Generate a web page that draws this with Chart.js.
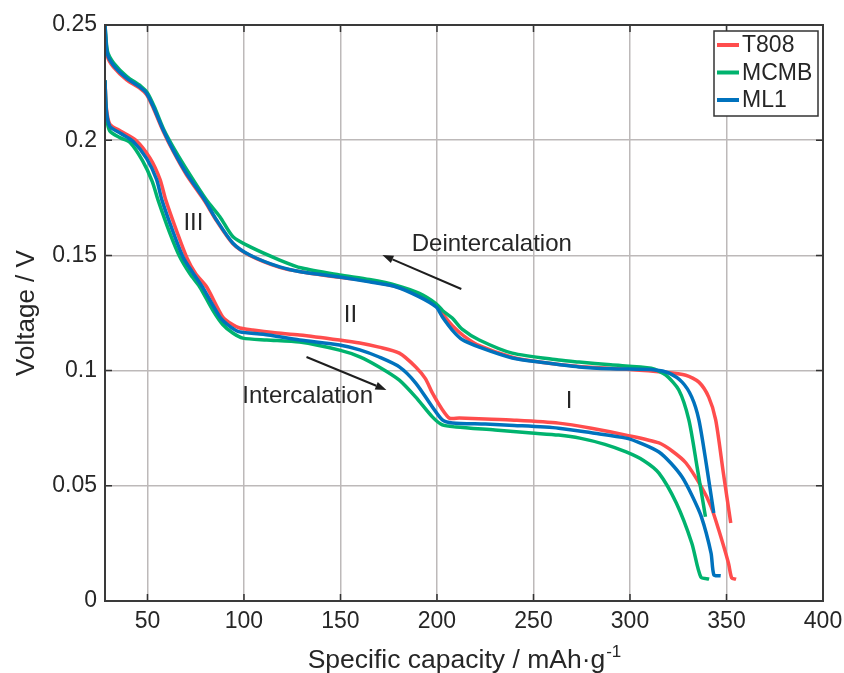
<!DOCTYPE html>
<html>
<head>
<meta charset="utf-8">
<script src="https://cdn.jsdelivr.net/npm/chart.js@4.4.0/dist/chart.umd.min.js"></script>
<style>
  html, body { margin: 0; padding: 0; background: #fff; }
</style>
</head>
<body>
<canvas id="chart" width="844" height="673"></canvas>
<script>
// axis ticks
const xTicks = [50, 100, 150, 200, 250, 300, 350, 400];
const yTicks = [0, 0.05, 0.1, 0.15, 0.2, 0.25];
const yTickLabels = ['0', '0.05', '0.1', '0.15', '0.2', '0.25'];

const seriesNames = ['T808', 'MCMB', 'ML1'];
const seriesColors = ['#ff4d4d', '#00b36e', '#0072bd'];

// intercalation (lower branch), capacity in mAh/g and voltage in V
const t808DisX = [28, 28.7, 30.5, 36, 44, 51.5, 56.5, 59.5, 65.5, 70.4, 75, 80.7, 89, 94, 97.8, 104.5, 115, 128.8, 149.5, 160, 170, 180.5, 189, 194, 197.6, 202.8, 206.4, 211.6, 225, 240, 263, 280, 298, 315, 322, 329, 337, 342, 346, 351, 352.7, 355];
const t808DisV = [0.226, 0.214, 0.207, 0.204, 0.2, 0.192, 0.183, 0.174, 0.1597, 0.149, 0.142, 0.1363, 0.1233, 0.1200, 0.1185, 0.1176, 0.1165, 0.1155, 0.1133, 0.1120, 0.1102, 0.1076, 0.1016, 0.0965, 0.0903, 0.083, 0.0794, 0.0794, 0.0790, 0.0785, 0.0772, 0.075, 0.072, 0.0686, 0.0650, 0.0599, 0.0495, 0.041, 0.0308, 0.0165, 0.0100, 0.0095];

const mcmbDisX = [28, 28.7, 30.5, 36, 41, 47.5, 52.5, 55.5, 61.6, 66.8, 72, 77.1, 83.8, 89, 94.2, 99.4, 111.8, 128.8, 149.5, 160, 170, 180.5, 189, 197.6, 202.8, 210, 230, 249, 263, 274, 287, 298, 307, 315, 324, 332, 336.7, 341];
const mcmbDisV = [0.226, 0.211, 0.204, 0.201, 0.199, 0.191, 0.182, 0.174, 0.1597, 0.1493, 0.142, 0.1363, 0.1263, 0.120, 0.1163, 0.1141, 0.1133, 0.1124, 0.1089, 0.106, 0.1016, 0.0959, 0.0885, 0.0799, 0.0764, 0.0755, 0.0742, 0.0729, 0.072, 0.0707, 0.068, 0.0647, 0.061, 0.0555, 0.0425, 0.0252, 0.0104, 0.0095];

const ml1DisX = [28, 28.7, 30.5, 36, 42.5, 49.6, 54.7, 57.5, 63.5, 68.6, 73.5, 78.7, 87.5, 93, 97.8, 110, 128.8, 149.5, 160, 170, 180.5, 189, 197.6, 202.8, 208, 225, 240, 263, 280, 298, 307, 315, 321, 327, 332, 337, 342, 343.5, 347];
const ml1DisV = [0.226, 0.213, 0.206, 0.203, 0.1995, 0.192, 0.183, 0.174, 0.1597, 0.149, 0.1425, 0.136, 0.1233, 0.119, 0.1168, 0.1158, 0.1133, 0.1111, 0.109, 0.1059, 0.1016, 0.0946, 0.0842, 0.0786, 0.0773, 0.0768, 0.0762, 0.075, 0.073, 0.0707, 0.068, 0.0647, 0.060, 0.0538, 0.046, 0.0365, 0.0208, 0.0113, 0.011];

// deintercalation (upper branch)
const t808ChgX = [352.2, 348.3, 344.4, 340.8, 335.7, 328.9, 316.5, 300, 273.6, 255, 239, 222, 214, 208, 203, 199.6, 191, 179, 165, 149.5, 130, 118.5, 103, 94.3, 85.8, 79.7, 70.2, 63.3, 58.1, 53, 49.5, 46.1, 39.2, 32.3, 29.2, 28];
const t808ChgV = [0.0339, 0.056, 0.0786, 0.0885, 0.095, 0.098, 0.0994, 0.1005, 0.1018, 0.1035, 0.1058, 0.1108, 0.1150, 0.1195, 0.1245, 0.1282, 0.1325, 0.1365, 0.1388, 0.1405, 0.1428, 0.1448, 0.150, 0.1550, 0.165, 0.1735, 0.1850, 0.1952, 0.2040, 0.2140, 0.2198, 0.2225, 0.2262, 0.2318, 0.2365, 0.248];

const mcmbChgX = [339.1, 334.8, 330.5, 325.3, 318.6, 311, 290, 273.6, 263, 239, 221.9, 213, 207.9, 203, 199.6, 190.9, 179, 165, 149.5, 130, 118.5, 103, 94.3, 87.5, 80.6, 72, 64, 58.5, 53.5, 50, 46.5, 39.5, 32.5, 29.3, 28];
const mcmbChgV = [0.0366, 0.058, 0.0786, 0.0916, 0.098, 0.101, 0.1025, 0.1037, 0.1046, 0.1076, 0.1133, 0.118, 0.1228, 0.126, 0.129, 0.1335, 0.137, 0.1395, 0.1415, 0.1445, 0.148, 0.1538, 0.1581, 0.1668, 0.174, 0.185, 0.196, 0.2045, 0.2146, 0.2205, 0.2235, 0.2275, 0.2335, 0.2385, 0.25];

const ml1ChgX = [343.4, 339.8, 335.7, 332, 327, 320, 313, 290, 273.6, 255, 239, 221.9, 213, 207.9, 203, 199.6, 190.9, 179, 165, 149.5, 130, 118.5, 103, 94.3, 85.8, 79.7, 70.2, 63.3, 58.1, 53, 49.5, 46.1, 39.2, 32.3, 29.2, 28];
const ml1ChgV = [0.0382, 0.058, 0.0786, 0.0885, 0.095, 0.099, 0.1003, 0.1008, 0.1016, 0.1035, 0.1055, 0.1102, 0.1135, 0.1176, 0.123, 0.1276, 0.132, 0.1363, 0.1385, 0.1406, 0.1428, 0.145, 0.1502, 0.1553, 0.1654, 0.174, 0.1856, 0.1957, 0.2045, 0.2146, 0.2204, 0.223, 0.2269, 0.2326, 0.2377, 0.25];

// text notes and arrows, in data coordinates
const noteText = ['III', 'II', 'I', 'Deintercalation', 'Intercalation'];
const noteX = [73.8, 155.2, 268.4, 228.4, 133];
const noteV = [0.1638, 0.1241, 0.0866, 0.155, 0.0888];
const arrowFromX = [212.6, 132.4];
const arrowFromV = [0.1354, 0.1059];
const arrowToX = [171.7, 173.8];
const arrowToV = [0.1502, 0.0916];

const fontFamily = '"Liberation Sans", Arial, Helvetica, sans-serif';
const textColor = '#262626';
const gridColor = '#bdb9b9';

function toPoints(xs, vs) {
    return xs.map((x, i) => ({ x: x, y: vs[i] }));
}

function makeSet(name, idx, xs, vs) {
    return {
        label: name,
        data: toPoints(xs, vs),
        borderColor: seriesColors[idx],
        backgroundColor: seriesColors[idx],
        borderWidth: 3.5,
        pointRadius: 0,
        tension: 0.25,
        fill: false,
        order: 3 - idx
    };
}

// box, inward ticks, notes, arrows, legend and axis titles
const decorations = {
    id: 'decorations',
    afterDatasetsDraw(chart) {
        const { ctx, chartArea: a } = chart;
        const sx = chart.scales.x, sy = chart.scales.y;
        ctx.save();

        // inward tick marks on all four sides
        ctx.strokeStyle = '#333';
        ctx.lineWidth = 1.5;
        ctx.beginPath();
        xTicks.forEach(v => {
            const px = sx.getPixelForValue(v);
            ctx.moveTo(px, a.bottom); ctx.lineTo(px, a.bottom - 7);
            ctx.moveTo(px, a.top); ctx.lineTo(px, a.top + 7);
        });
        yTicks.forEach(v => {
            const py = sy.getPixelForValue(v);
            ctx.moveTo(a.left, py); ctx.lineTo(a.left + 7, py);
            ctx.moveTo(a.right, py); ctx.lineTo(a.right - 7, py);
        });
        ctx.stroke();

        // axes box
        ctx.strokeStyle = '#3a3a3a';
        ctx.lineWidth = 2;
        ctx.strokeRect(a.left, a.top, a.right - a.left, a.bottom - a.top);

        // arrows
        ctx.strokeStyle = '#1e1e1e';
        ctx.fillStyle = '#1e1e1e';
        ctx.lineWidth = 2;
        arrowFromX.forEach((fx, i) => {
            const x0 = sx.getPixelForValue(fx), y0 = sy.getPixelForValue(arrowFromV[i]);
            const x1 = sx.getPixelForValue(arrowToX[i]), y1 = sy.getPixelForValue(arrowToV[i]);
            const ang = Math.atan2(y1 - y0, x1 - x0);
            const len = 11, half = 4;
            const bx = x1 - len * Math.cos(ang), by = y1 - len * Math.sin(ang);
            ctx.beginPath();
            ctx.moveTo(x0, y0);
            ctx.lineTo(bx, by);
            ctx.stroke();
            ctx.beginPath();
            ctx.moveTo(x1, y1);
            ctx.lineTo(bx + half * Math.sin(ang), by - half * Math.cos(ang));
            ctx.lineTo(bx - half * Math.sin(ang), by + half * Math.cos(ang));
            ctx.closePath();
            ctx.fill();
        });

        // notes
        ctx.fillStyle = textColor;
        ctx.font = '24px ' + fontFamily;
        ctx.textAlign = 'center';
        ctx.textBaseline = 'middle';
        noteText.forEach((t, i) => {
            ctx.fillText(t, sx.getPixelForValue(noteX[i]), sy.getPixelForValue(noteV[i]));
        });

        // legend
        const lx = 714, ly = 31, lw = 104, lh = 85;
        ctx.fillStyle = '#fff';
        ctx.fillRect(lx, ly, lw, lh);
        ctx.strokeStyle = '#333';
        ctx.lineWidth = 1.5;
        ctx.strokeRect(lx, ly, lw, lh);
        ctx.font = '23px ' + fontFamily;
        ctx.textAlign = 'left';
        seriesNames.forEach((name, i) => {
            const ry = ly + 14 + i * 27.5;
            ctx.strokeStyle = seriesColors[i];
            ctx.lineWidth = 4;
            ctx.beginPath();
            ctx.moveTo(lx + 3, ry); ctx.lineTo(lx + 25, ry);
            ctx.stroke();
            ctx.fillStyle = textColor;
            ctx.fillText(name, lx + 28, ry + 1);
        });

        // y title
        ctx.fillStyle = textColor;
        ctx.font = '26px ' + fontFamily;
        ctx.textBaseline = 'alphabetic';
        ctx.textAlign = 'center';
        ctx.save();
        ctx.translate(34, (a.top + a.bottom) / 2);
        ctx.rotate(-Math.PI / 2);
        ctx.fillText('Voltage / V', 0, 0);
        ctx.restore();

        // x title with superscript
        const main = 'Specific capacity / mAh\u00b7g';
        const sup = '-1';
        ctx.font = '26.5px ' + fontFamily;
        const w1 = ctx.measureText(main).width;
        ctx.font = '17px ' + fontFamily;
        const w2 = ctx.measureText(sup).width;
        const startX = (a.left + a.right) / 2 - (w1 + w2) / 2;
        ctx.textAlign = 'left';
        ctx.font = '26.5px ' + fontFamily;
        ctx.fillText(main, startX, 668);
        ctx.font = '17px ' + fontFamily;
        ctx.fillText(sup, startX + w1 + 1, 657);

        ctx.restore();
    }
};

const ctx = document.getElementById('chart').getContext('2d');
new Chart(ctx, {
    type: 'line',
    data: {
        datasets: [
            makeSet('T808', 0, t808DisX, t808DisV),
            makeSet('T808', 0, t808ChgX, t808ChgV),
            makeSet('MCMB', 1, mcmbDisX, mcmbDisV),
            makeSet('MCMB', 1, mcmbChgX, mcmbChgV),
            makeSet('ML1', 2, ml1DisX, ml1DisV),
            makeSet('ML1', 2, ml1ChgX, ml1ChgV)
        ]
    },
    options: {
        responsive: false,
        animation: false,
        devicePixelRatio: 1,
        layout: { padding: { left: 0, right: 21, top: 25, bottom: 0 } },
        plugins: {
            legend: { display: false },
            tooltip: { enabled: false }
        },
        scales: {
            x: {
                type: 'linear',
                min: 28,
                max: 400,
                afterBuildTicks: s => { s.ticks = xTicks.map(v => ({ value: v })); },
                afterFit: s => { s.height = 72; s.paddingLeft = 0; s.paddingRight = 0; },
                grid: { color: gridColor, lineWidth: 1.5, drawTicks: false },
                border: { display: false },
                ticks: {
                    font: { family: fontFamily, size: 23 },
                    color: textColor,
                    padding: 7,
                    maxRotation: 0,
                    autoSkip: false,
                    callback: v => String(v)
                }
            },
            y: {
                type: 'linear',
                min: 0,
                max: 0.25,
                afterBuildTicks: s => { s.ticks = yTicks.map(v => ({ value: v })); },
                afterFit: s => { s.width = 105; s.paddingTop = 0; s.paddingBottom = 0; },
                grid: { color: gridColor, lineWidth: 1.5, drawTicks: false },
                border: { display: false },
                ticks: {
                    font: { family: fontFamily, size: 23 },
                    color: textColor,
                    padding: 8,
                    autoSkip: false,
                    callback: (v, i) => yTickLabels[i]
                }
            }
        }
    },
    plugins: [decorations]
});
</script>
</body>
</html>
